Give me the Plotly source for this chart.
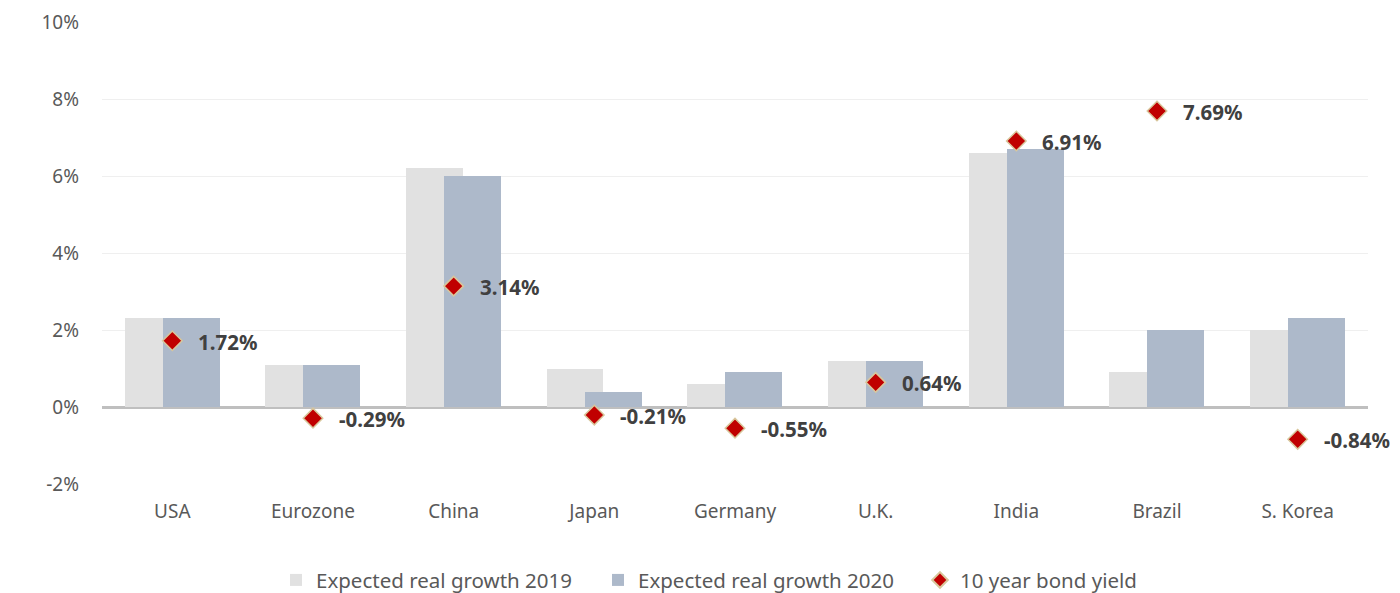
import plotly.graph_objects as go

countries = ["USA", "Eurozone", "China", "Japan", "Germany", "U.K.", "India", "Brazil", "S. Korea"]
growth_2019 = [2.3, 1.1, 6.2, 1.0, 0.6, 1.2, 6.6, 0.9, 2.0]
growth_2020 = [2.3, 1.1, 6.0, 0.4, 0.9, 1.2, 6.7, 2.0, 2.3]
bond_yield = [1.72, -0.29, 3.14, -0.21, -0.55, 0.64, 6.91, 7.69, -0.84]
y_ticks = [-2, 0, 2, 4, 6, 8, 10]
y_tick_labels = ["-2%", "0%", "2%", "4%", "6%", "8%", "10%"]

FONT = "Noto Sans"

fig = go.Figure()
fig.add_trace(go.Bar(
    x=countries, y=growth_2019, name="Expected real growth 2019",
    marker=dict(color="#e1e1e1", line=dict(width=0)),
    width=0.405, offset=-0.34,
))
fig.add_trace(go.Bar(
    x=countries, y=growth_2020, name="Expected real growth 2020",
    marker=dict(color="#adb9ca", line=dict(width=0)),
    width=0.405, offset=-0.068,
))
fig.add_trace(go.Scatter(
    x=countries, y=bond_yield, name="10 year bond yield", mode="markers",
    marker=dict(symbol="diamond", size=15, color="#c00000",
                line=dict(color="#d8c79c", width=1.5)),
))

for c, v in zip(countries, bond_yield):
    fig.add_annotation(
        x=c, y=v, text=f"<b>{v:.2f}%</b>", showarrow=False,
        xanchor="left", yanchor="middle", xshift=24, yshift=-1,
        font=dict(family=FONT, size=20.5, color="#404040"),
    )

fig.update_layout(
    width=1400, height=593,
    margin=dict(l=102, r=32, t=22, b=109, autoexpand=False),
    paper_bgcolor="white", plot_bgcolor="white",
    barmode="overlay", bargap=0,
    font=dict(family=FONT, color="#595959", size=19),
    showlegend=True,
    legend=dict(
        orientation="h", x=(276 - 102) / 1266, xanchor="left", y=-0.208, yanchor="middle",
        font=dict(family=FONT, size=20.5, color="#595959"),
        itemsizing="constant", traceorder="normal",
        itemwidth=30, entrywidth=277, entrywidthmode="pixels",
    ),
    xaxis=dict(
        showgrid=False, showline=False, ticks="",
        tickfont=dict(size=19, color="#595959"),
        range=[-0.5, 8.5], ticklabelstandoff=14,
    ),
    yaxis=dict(
        range=[-2, 10], tickvals=y_ticks, ticktext=y_tick_labels,
        showgrid=True, gridcolor="#efefef", gridwidth=1,
        zeroline=True, zerolinecolor="#bfbfbf", zerolinewidth=3,
        showline=False, ticks="", ticklabelstandoff=22,
        tickfont=dict(size=19, color="#595959"),
    ),
)

fig.write_html("out.html")
